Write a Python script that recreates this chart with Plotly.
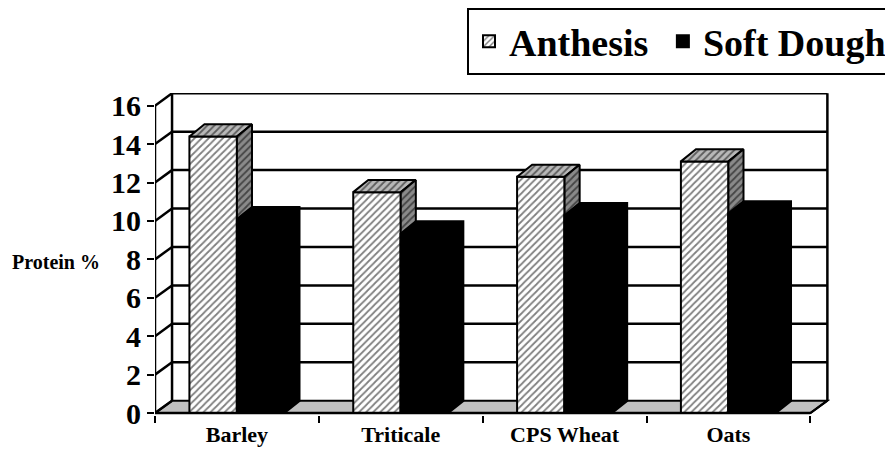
import plotly.graph_objects as go

crops = ["Barley", "Triticale", "CPS Wheat", "Oats"]
anthesis = [14.4, 11.5, 12.3, 13.1]
soft_dough = [10.1, 9.35, 10.3, 10.4]
y_ticks = [0, 2, 4, 6, 8, 10, 12, 14, 16]

# fake 3D look: depth offsets in axis units
bar_w = 0.29
dxb, dyb = 0.092, 0.63   # bar depth
dxw, dyw = 0.104, 0.646  # wall depth
font = "Liberation Serif"

xs = list(range(len(crops)))


def top_face(x0, x1, v):
    return [x0, x1, x1 + dxb, x0 + dxb, x0, None], [v, v, v + dyb, v + dyb, v, None]


def side_face(x1, v):
    return [x1, x1, x1 + dxb, x1 + dxb, x1, None], [0, v, v + dyb, dyb, 0, None]


def silhouette(x0, x1, v):
    return ([x0, x0, x0 + dxb, x1 + dxb, x1 + dxb, x1, x0, None],
            [0, v, v + dyb, v + dyb, dyb, 0, 0, None])


fig = go.Figure()

# front faces (also give the legend swatches)
fig.add_trace(go.Bar(
    x=xs, y=anthesis, offset=-bar_w, width=bar_w, name="Anthesis\u00a0",
    marker=dict(color="white", line=dict(color="black", width=2),
                pattern=dict(shape="/", fgcolor="black", bgcolor="white", size=5, solidity=0.35)),
))
fig.add_trace(go.Bar(
    x=xs, y=soft_dough, offset=0, width=bar_w, name="Soft Dough",
    marker=dict(color="black", line=dict(color="black", width=2)),
))

tx, ty, sx, sy, bx, by = [], [], [], [], [], []
for i, (a, s) in enumerate(zip(anthesis, soft_dough)):
    px, py = top_face(i - bar_w, i, a)
    tx += px; ty += py
    px, py = side_face(i, a)
    sx += px; sy += py
    px, py = silhouette(i, i + bar_w, s)
    bx += px; by += py

fig.add_trace(go.Scatter(
    x=tx, y=ty, mode="lines", fill="toself", fillcolor="#b8b8b8", showlegend=False,
    line=dict(color="black", width=2), hoverinfo="skip",
    fillpattern=dict(shape="/", fgcolor="black", bgcolor="#b8b8b8", size=5, solidity=0.35),
))
fig.add_trace(go.Scatter(
    x=sx, y=sy, mode="lines", fill="toself", fillcolor="#8a8a8a", showlegend=False,
    line=dict(color="black", width=2), hoverinfo="skip",
    fillpattern=dict(shape="/", fgcolor="black", bgcolor="#8a8a8a", size=5, solidity=0.35),
))
fig.add_trace(go.Scatter(
    x=bx, y=by, mode="lines", fill="toself", fillcolor="black", showlegend=False,
    line=dict(color="black", width=2), hoverinfo="skip",
))

# walls, floor and grid
x_lo, x_hi = -0.5, len(crops) - 0.5
top = y_ticks[-1]
shapes = []
line = dict(color="black", width=2.5)
# floor
shapes.append(dict(type="path", layer="below", fillcolor="#c0c0c0", line=dict(color="black", width=2),
                   path=f"M {x_lo},0 L {x_hi},0 L {x_hi + dxw},{dyw} L {x_lo + dxw},{dyw} Z"))
for v in y_ticks[1:]:
    shapes.append(dict(type="line", layer="below", line=line,
                       x0=x_lo + dxw, x1=x_hi + dxw, y0=v + dyw, y1=v + dyw))
for v in y_ticks:
    shapes.append(dict(type="line", layer="below", line=line,
                       x0=x_lo, x1=x_lo + dxw, y0=v, y1=v + dyw))
shapes.append(dict(type="line", layer="below", line=line,
                   x0=x_lo + dxw, x1=x_lo + dxw, y0=dyw, y1=top + dyw))
shapes.append(dict(type="line", layer="below", line=line,
                   x0=x_hi + dxw, x1=x_hi + dxw, y0=dyw, y1=top + dyw))
# front axis lines
shapes.append(dict(type="line", layer="above", line=line, x0=x_lo, x1=x_lo, y0=0, y1=top))
shapes.append(dict(type="line", layer="above", line=line, x0=x_lo, x1=x_hi, y0=0, y1=0))
shapes.append(dict(type="line", layer="above", line=dict(color="black", width=2),
                   x0=x_hi, x1=x_hi + dxw, y0=0, y1=dyw))

# the page body adds an 8px margin, so the figure is 8px smaller
fig.update_layout(
    width=885, height=443,
    margin=dict(l=147, r=63, t=85, b=36),
    paper_bgcolor="white", plot_bgcolor="white",
    barmode="overlay",
    shapes=shapes,
    showlegend=True,
    legend=dict(
        orientation="h", xref="paper", yref="container",
        x=0.477, xanchor="left", y=1.0, yanchor="top",
        bordercolor="black", borderwidth=2, bgcolor="white",
        font=dict(family=font, size=38, color="black", weight="bold"),
        itemclick=False,
    ),
    xaxis=dict(
        range=[-0.5, 3.62], showgrid=False, zeroline=False, showline=False,
        automargin=False,
        tickvals=xs, ticktext=crops, ticks="", ticklabelstandoff=4,
        tickfont=dict(family=font, size=22, color="black", weight="bold"),
        minor=dict(tickvals=[x - 0.5 for x in xs] + [x_hi], ticks="outside",
                   ticklen=7, tickwidth=2, tickcolor="black"),
    ),
    yaxis=dict(
        range=[-0.1, 16.66], showgrid=False, zeroline=False, showline=False,
        automargin=False,
        tickvals=y_ticks, ticks="outside", ticklen=7, tickwidth=2, tickcolor="black",
        tickfont=dict(family=font, size=30, color="black", weight="bold"),
    ),
    annotations=[dict(
        text="Protein %", xref="paper", yref="paper", x=-0.079, y=0.475,
        xanchor="right", yanchor="middle", showarrow=False,
        font=dict(family=font, size=20, color="black", weight="bold"),
    )],
)

fig.write_html("out.html")
